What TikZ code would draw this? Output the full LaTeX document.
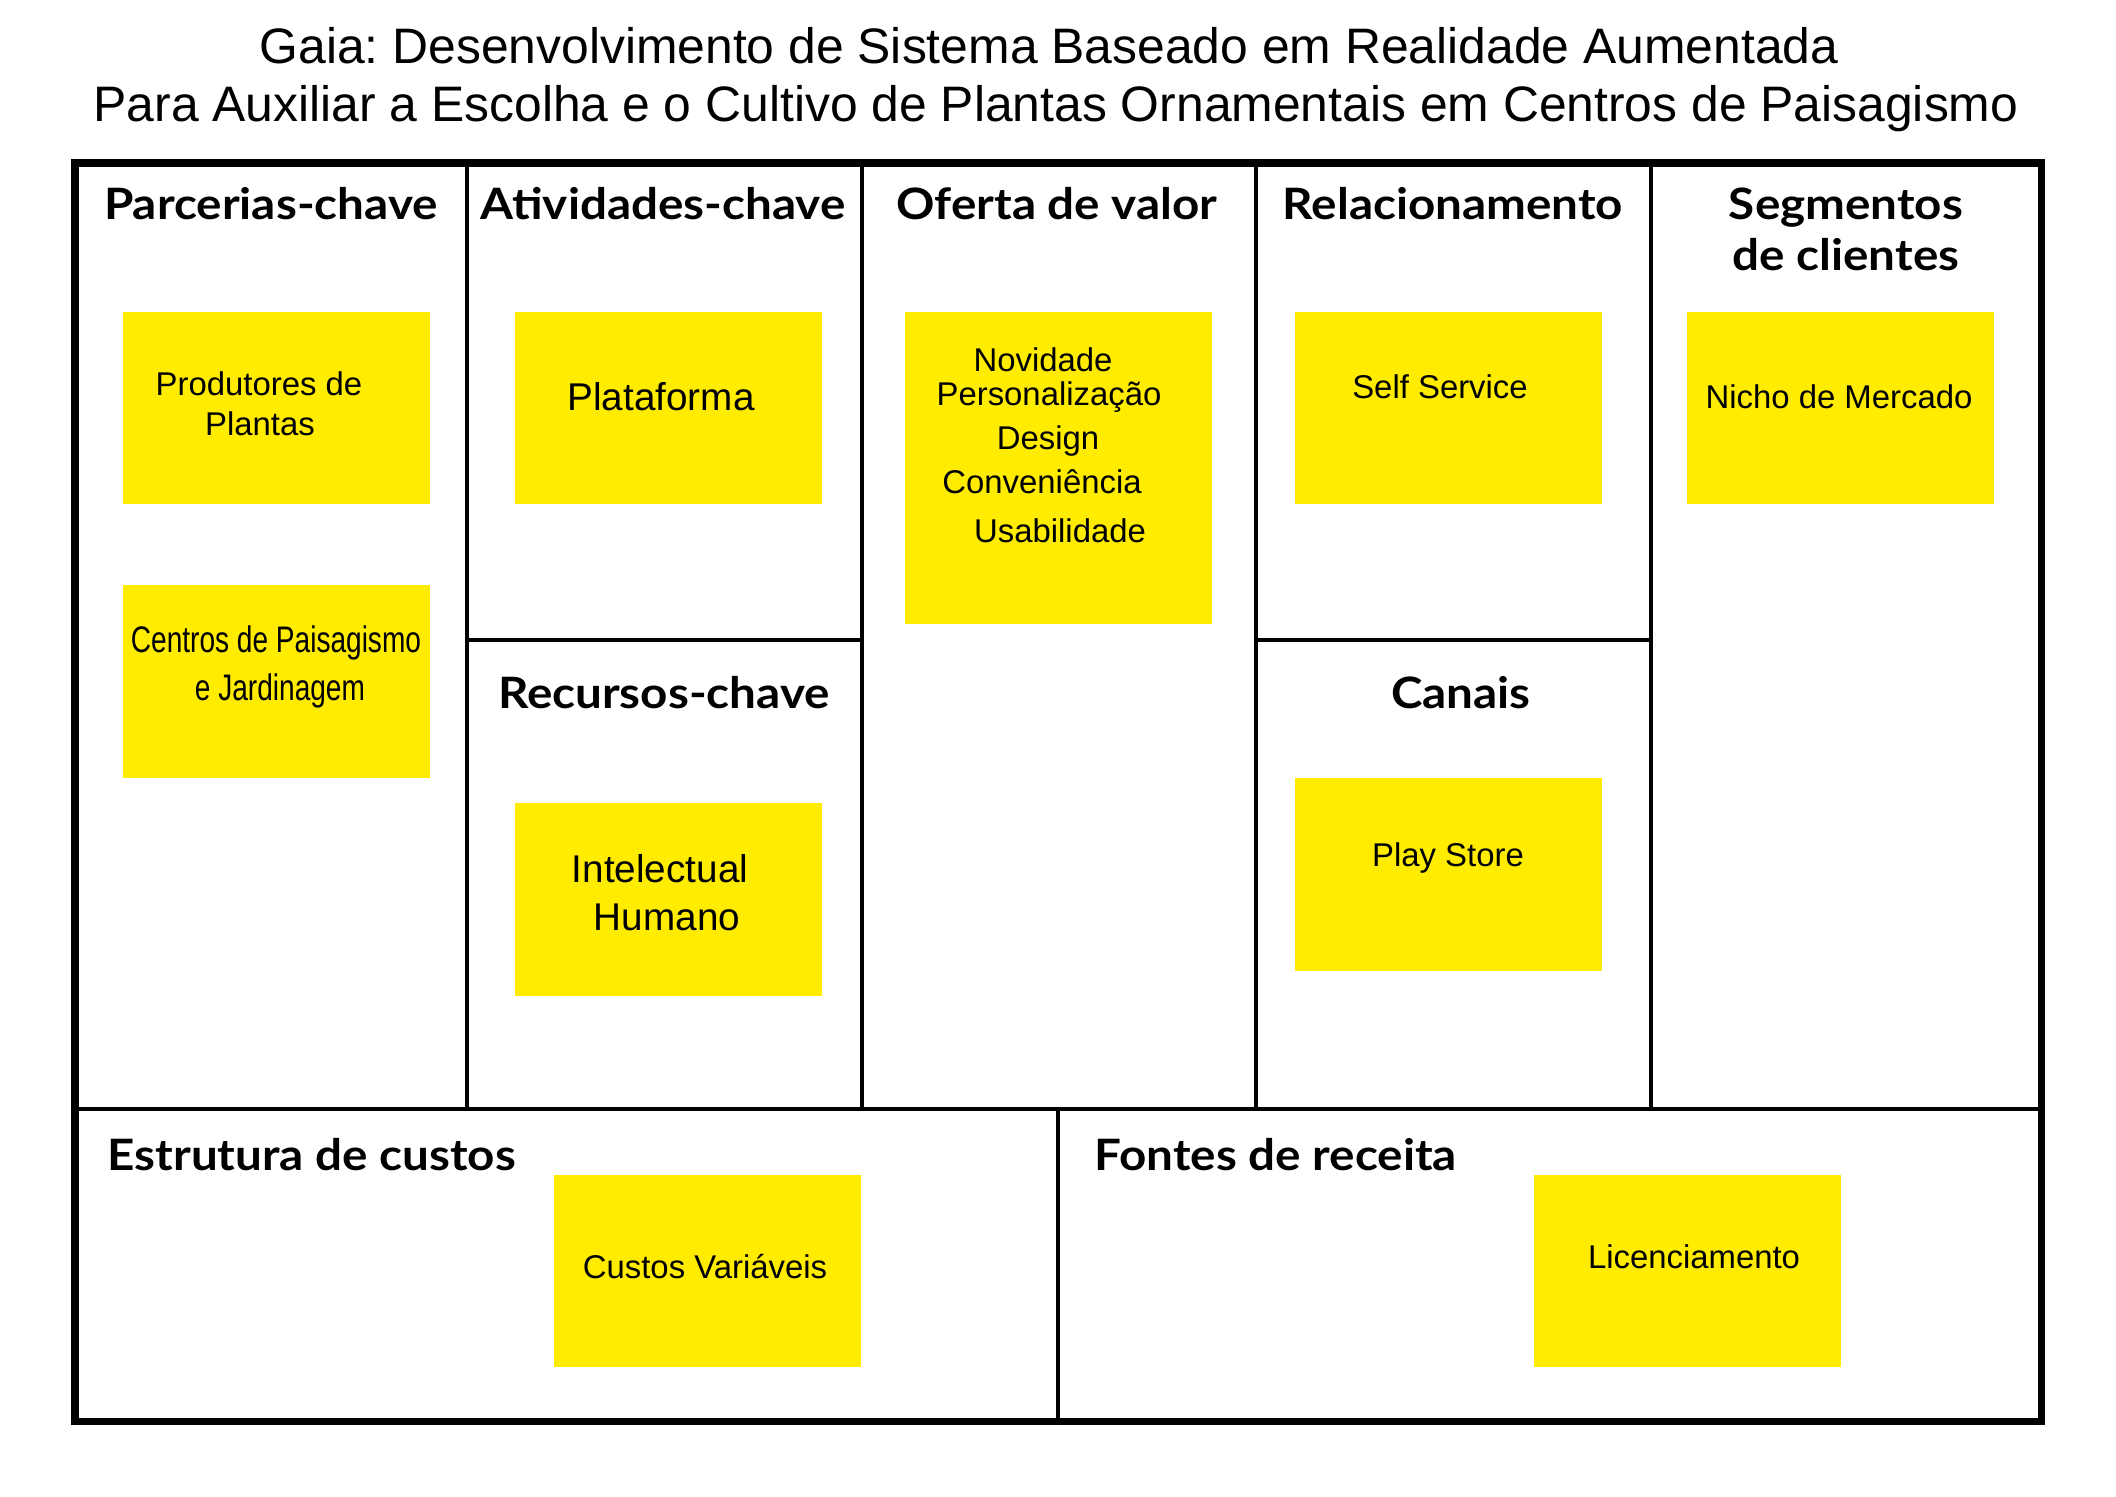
\documentclass[tikz,border=0pt]{standalone}
\usepackage{fontspec}
\setmainfont{Liberation Sans}
\newfontfamily\headfont{Lato}[FakeStretch=1.1]
\newfontfamily\narrowfont{Liberation Sans}[FakeStretch=0.76]
\definecolor{stickyyellow}{HTML}{FFEC00}
\frenchspacing
\begin{document}
\begin{tikzpicture}[x=0.01cm,y=-0.01cm,
  notebox/.style={fill=stickyyellow,draw=none,inner sep=0pt,anchor=north west,
    minimum width=3.07cm,minimum height=1.92cm},
  tallbox/.style={notebox,minimum height=3.12cm},
  notetext/.style={anchor=base,inner sep=0pt,font=\fontsize{9.35pt}{11pt}\selectfont},
  bigtext/.style={anchor=base,inner sep=0pt,font=\fontsize{11pt}{13pt}\selectfont},
  narrowtext/.style={anchor=base,inner sep=0pt,font=\narrowfont\fontsize{10.5pt}{12pt}\selectfont},
  headtext/.style={anchor=base,inner sep=0pt,font=\headfont\bfseries\fontsize{12.3pt}{14pt}\selectfont},
  titletext/.style={anchor=base,inner sep=0pt,font=\fontsize{14.17pt}{17pt}\selectfont},
  outerline/.style={line width=2pt,line join=miter},
  innerline/.style={line width=1.3pt}]
\useasboundingbox[fill=white] (0,0) rectangle (2116,1496);

% title
\node[titletext] (title1) at (1049,63) {Gaia: Desenvolvimento de Sistema Baseado em Realidade Aumentada};
\node[titletext] (title2) at (1056,121) {Para Auxiliar a Escolha e o Cultivo de Plantas Ornamentais em Centros de Paisagismo};

% sticky notes
\node[notebox] (bprod) at (122,311) {};
\node[notebox,minimum height=1.93cm] (bcent) at (122,584) {};
\node[notebox] (bplat) at (514,311) {};
\node[notebox,minimum height=1.93cm] (bintel) at (514,802) {};
\node[tallbox] (boferta) at (904,311) {};
\node[notebox] (bself) at (1294,311) {};
\node[notebox,minimum height=1.93cm] (bplay) at (1294,777) {};
\node[notebox] (bnicho) at (1686,311) {};
\node[notebox] (bcustos) at (553,1174) {};
\node[notebox] (blic) at (1533,1174) {};

% grid
\draw[innerline] (467,163) -- (467,1109);
\draw[innerline] (862,163) -- (862,1109);
\draw[innerline] (1256,163) -- (1256,1109);
\draw[innerline] (1651,163) -- (1651,1109);
\draw[innerline] (467,640) -- (862,640);
\draw[innerline] (1256,640) -- (1651,640);
\draw[innerline] (75,1109) -- (2041,1109);
\draw[innerline] (1058,1109) -- (1058,1421);
\draw[outerline] (75,163) rectangle (2041,1421);

% headings
\node[headtext] (hparc) at (271,219) {Parcerias-chave};
\node[headtext] (hativ) at (663,219) {Atividades-chave};
\node[headtext] (hofer) at (1057,219) {Oferta de valor};
\node[headtext] (hrel) at (1453,219) {Relacionamento};
\node[headtext] (hseg1) at (1846,219) {Segmentos};
\node[headtext] (hseg2) at (1846,270) {de clientes};
\node[headtext] (hrec) at (664,708) {Recursos-chave};
\node[headtext] (hcan) at (1461,708) {Canais};
\node[headtext,anchor=base west] (hcust) at (107,1170) {Estrutura de custos};
\node[headtext,anchor=base west] (hfont) at (1094,1170) {Fontes de receita};

% note texts
\node[notetext] (tprod1) at (259,395) {Produtores de};
\node[notetext] (tprod2) at (260,435) {Plantas};
\node[narrowtext] (tcent1) at (276,652) {Centros de Paisagismo};
\node[narrowtext] (tcent2) at (280,700) {e Jardinagem};
\node[bigtext] (tplat) at (661,410) {Plataforma};
\node[bigtext] (tintel1) at (660,882) {Intelectual};
\node[bigtext] (tintel2) at (667,930) {Humano};
\node[notetext] (tof1) at (1043,371) {Novidade};
\node[notetext] (tof2) at (1049,405) {Personalização};
\node[notetext] (tof3) at (1048,449) {Design};
\node[notetext] (tof4) at (1042,493) {Conveniência};
\node[notetext] (tof5) at (1060,542) {Usabilidade};
\node[notetext] (tself) at (1440,398) {Self Service};
\node[notetext] (tplay) at (1448,866) {Play Store};
\node[notetext] (tnicho) at (1839,408) {Nicho de Mercado};
\node[notetext] (tcustos) at (705,1278) {Custos Variáveis};
\node[notetext] (tlic) at (1694,1268) {Licenciamento};
\end{tikzpicture}
\end{document}
